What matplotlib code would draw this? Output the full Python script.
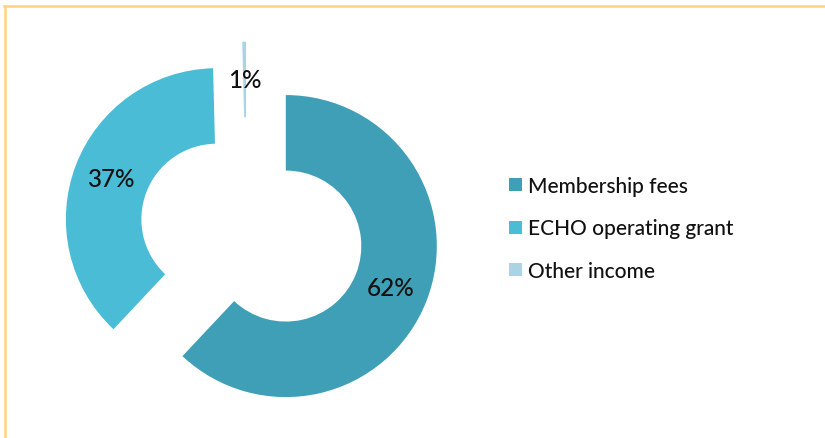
import matplotlib.pyplot as plt
from matplotlib.lines import Line2D
from matplotlib.patches import Patch

plt.rcParams['font.family'] = ['Lato', 'DejaVu Sans']

# income shares (drawn) and the printed percentage labels
categories = ['Membership fees', 'ECHO operating grant', 'Other income']
shares = [62.0, 37.6, 0.4]
pct_labels = ['62%', '37%', '1%']
colors = ['#3f9fb7', '#4bbcd6', '#a8d4e4']
explode = [0.28, 0.21, 0.25]

W, H = 825, 439
fig = plt.figure(figsize=(W / 100, H / 100), dpi=100)
ax = fig.add_axes([0, 0, 1, 1])

wedges, texts, autotexts = ax.pie(
    shares, colors=colors, explode=explode, startangle=90, counterclock=False,
    wedgeprops=dict(width=0.5, linewidth=0), autopct='%1.0f%%', pctdistance=0.75,
    textprops=dict(fontsize=17.5, color='#111111', fontweight='medium'))
for t, s in zip(autotexts, pct_labels):
    t.set_text(s)

# pie of radius 1 -> 151 px, centred at pixel (246.5, 231.5 from top)
R = 151.0
cx, cy = 246.5, 231.5
ax.set_aspect('auto')
ax.set_xlim(-cx / R, (W - cx) / R)
ax.set_ylim(-(H - cy) / R, cy / R)
ax.axis('off')

handles = [Patch(facecolor=c, edgecolor='none') for c in colors]
leg = fig.legend(handles, categories, loc='center left',
                 bbox_to_anchor=(509 / W, 1 - 229.5 / H), frameon=False,
                 fontsize=15, handlelength=0.6, handleheight=0.6,
                 handletextpad=0.3, labelspacing=1.07, borderpad=0, borderaxespad=0)
for t in leg.get_texts():
    t.set_color('#111111')
    t.set_fontweight('medium')

# thin orange frame on top and left
frame_col = '#fdd47c'
fig.add_artist(Line2D([4 / W, 1], [1 - 7 / H, 1 - 7 / H], color=frame_col, lw=1.8))
fig.add_artist(Line2D([5 / W, 5 / W], [0, 1 - 7 / H], color=frame_col, lw=1.8))

fig.savefig('out.png', dpi=100)
